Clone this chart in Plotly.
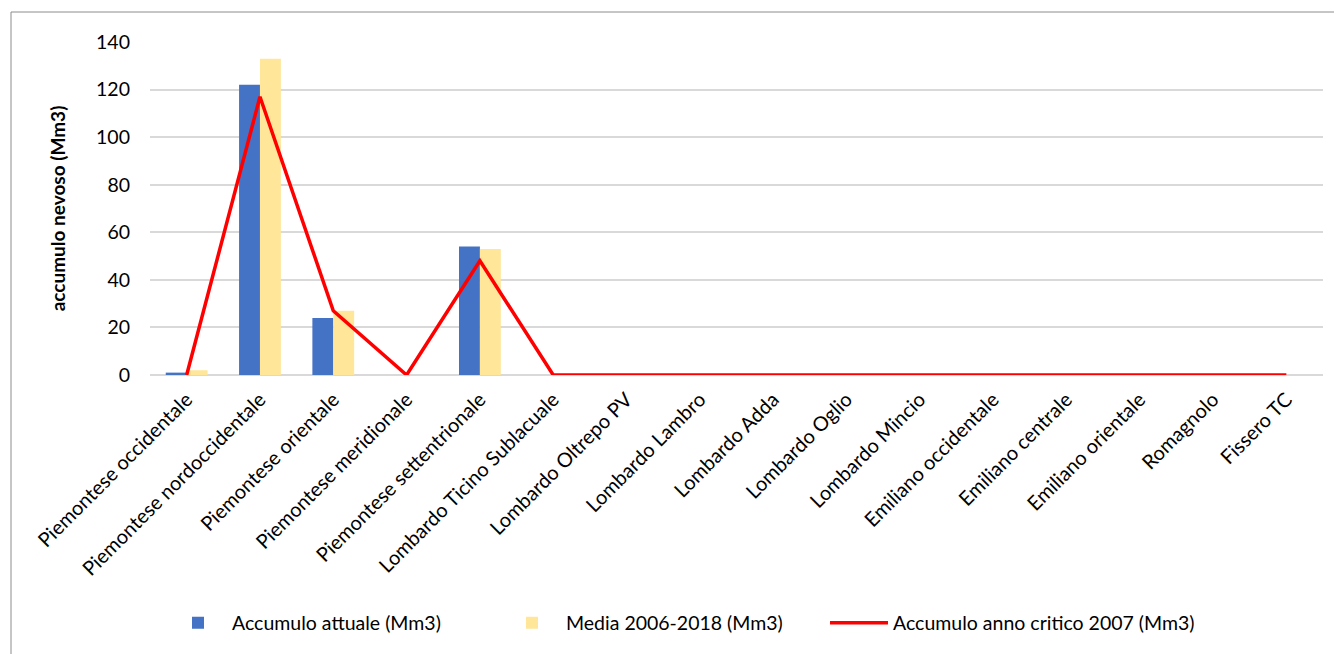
import plotly.graph_objects as go

categories = [
    "Piemontese occidentale", "Piemontese nordoccidentale", "Piemontese orientale",
    "Piemontese meridionale", "Piemontese settentrionale", "Lombardo Ticino Sublacuale",
    "Lombardo Oltrepo PV", "Lombardo Lambro", "Lombardo Adda", "Lombardo Oglio",
    "Lombardo Mincio", "Emiliano occidentale", "Emiliano centrale", "Emiliano orientale",
    "Romagnolo", "Fissero TC",
]
accumulo_attuale = [1, 122, 24, 0, 54, 0, 0, 0, 0, 0, 0, 0, 0, 0, 0, 0]
media_2006_2018 = [2, 133, 27, 0, 53, 0, 0, 0, 0, 0, 0, 0, 0, 0, 0, 0]
anno_critico_2007 = [0, 117, 27, 0, 48, 0, 0, 0, 0, 0, 0, 0, 0, 0, 0, 0]
y_ticks = [0, 20, 40, 60, 80, 100, 120, 140]

FONT = "Lato, 'Open Sans', sans-serif"
FS = 20

fig = go.Figure()
fig.add_trace(go.Bar(x=categories, y=accumulo_attuale, name="Accumulo attuale (Mm3)",
                     marker=dict(color="#4472C4", line=dict(width=0)), legend="legend"))
fig.add_trace(go.Bar(x=categories, y=media_2006_2018, name="Media 2006-2018 (Mm3)",
                     marker=dict(color="#FFE699", line=dict(width=0)), legend="legend2"))
fig.add_trace(go.Scatter(x=categories, y=anno_critico_2007, name="Accumulo anno critico 2007 (Mm3)",
                         mode="lines", line=dict(color="#FF0000", width=3.5), legend="legend3"))

# page offset of 8px (body margin) taken into account
OFF = 8
W, H = 1342 - OFF, 654 - OFF
L, R, T, B = 150 - OFF, 19, 42 - OFF, 279
pw, ph = W - L - R, H - T - B

def px_x(page_x):
    return (page_x - OFF - L) / pw

def px_y(page_y):
    return 1 - (page_y - OFF - T) / ph

def legend_at(page_x):
    return dict(orientation="h", x=px_x(page_x), xanchor="left",
                y=px_y(623), yanchor="middle",
                font=dict(size=FS - 0.5, family=FONT),
                itemwidth=58, bgcolor="rgba(0,0,0,0)")

fig.update_layout(
    width=W, height=H,
    margin=dict(l=L, r=R, t=T, b=B, autoexpand=False),
    paper_bgcolor="white", plot_bgcolor="white",
    font=dict(family=FONT, size=FS, color="#000000"),
    barmode="group", bargap=0.43, bargroupgap=0,
    showlegend=True,
    legend=legend_at(164),
    legend2=legend_at(498),
    legend3=legend_at(825),
    xaxis=dict(tickangle=-45, showgrid=False, showline=False, ticks="",
               tickfont=dict(size=FS, family=FONT), ticklabelstandoff=8,
               automargin=False),
    yaxis=dict(range=[0, 140], tickvals=y_ticks, showgrid=True, gridcolor="#D9D9D9",
               gridwidth=1.5, zeroline=True, zerolinecolor="#D9D9D9", zerolinewidth=1.5,
               showline=False, ticks="", tickfont=dict(size=FS - 0.5, family=FONT),
               ticklabelstandoff=19, automargin=False,
               title=dict(text="<b>accumulo nevoso (Mm3)</b>", font=dict(size=19, family=FONT),
                          standoff=25)),
    shapes=[dict(type="rect", xref="paper", yref="paper",
                 x0=px_x(11), x1=px_x(1360),
                 y0=px_y(700), y1=px_y(12),
                 line=dict(color="#8C8C8C", width=1), fillcolor="rgba(0,0,0,0)", layer="below")],
)

fig.write_html("out.html")
